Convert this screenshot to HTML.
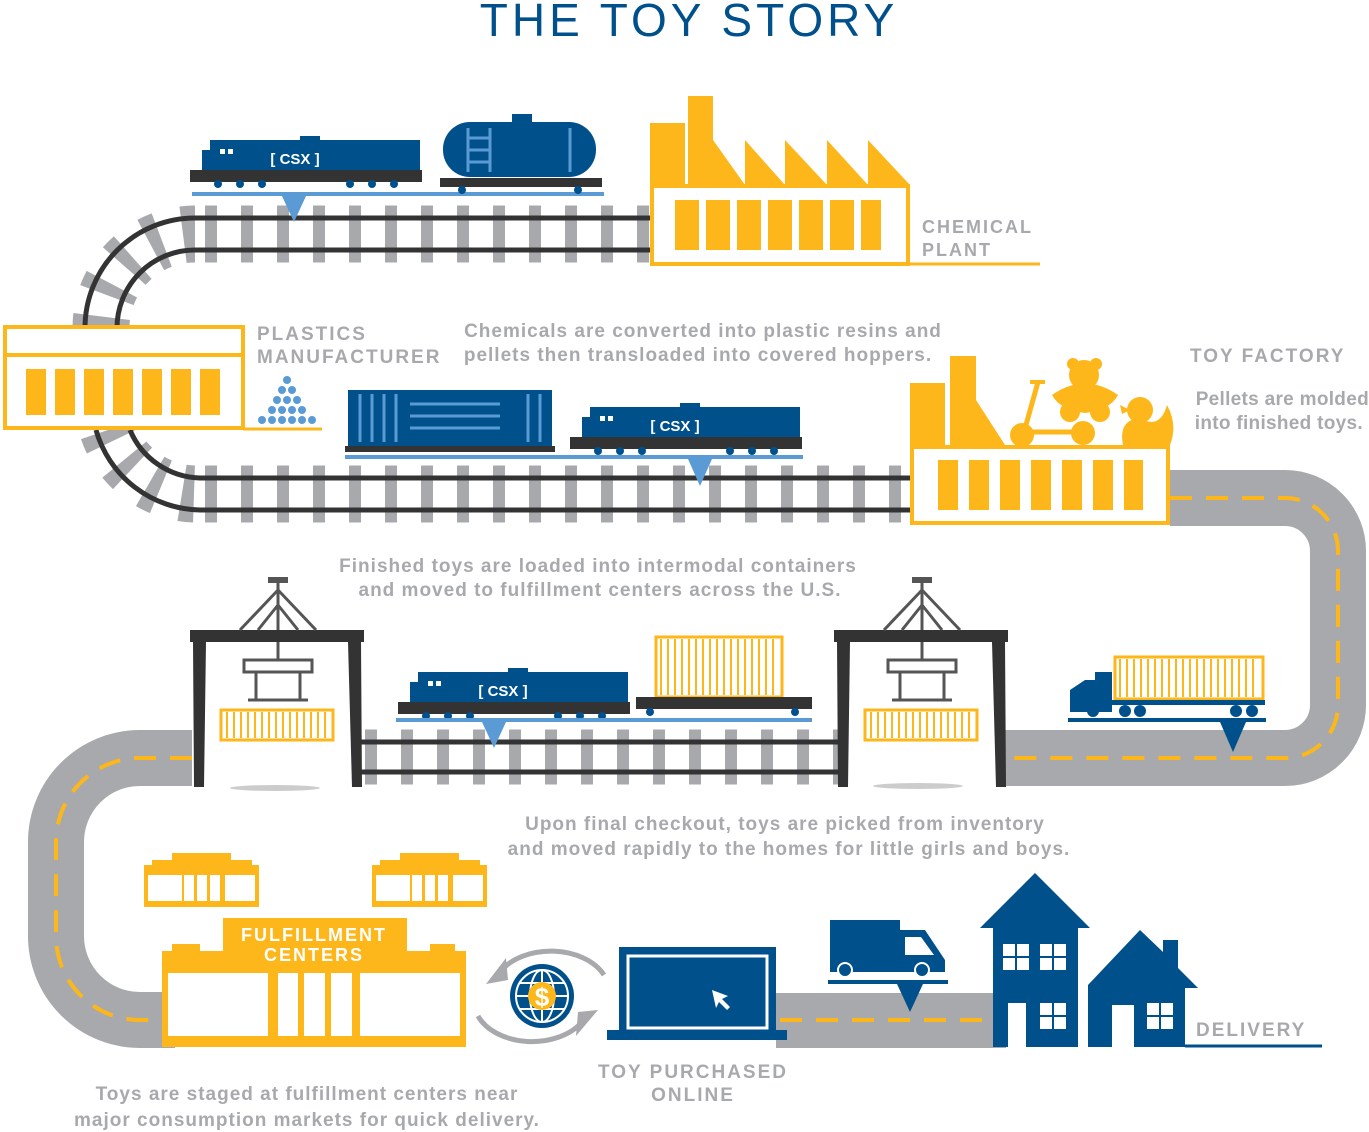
<!DOCTYPE html>
<html><head><meta charset="utf-8"><style>
html,body{margin:0;padding:0;background:#fff}
svg{display:block}
text{font-family:"Liberation Sans",sans-serif;font-weight:bold}
</style></head><body>
<svg width="1369" height="1132" viewBox="0 0 1369 1132" xmlns="http://www.w3.org/2000/svg">
<defs>
<g id="loco">
  <path d="M12,40 V18 H20 V8 H110 V4 H130 V8 H230 V40 Z" fill="#00508c"/>
  <rect x="0" y="38" width="232" height="12" fill="#333"/>
  <rect x="30" y="17" width="5" height="5" fill="#fff"/><rect x="38" y="17" width="5" height="5" fill="#fff"/>
  <text x="105" y="32" font-size="15" fill="#fff" text-anchor="middle">[ CSX ]</text>
  <g fill="#00508c"><circle cx="28" cy="52" r="4"/><circle cx="50" cy="52" r="4"/><circle cx="72" cy="52" r="4"/><circle cx="160" cy="52" r="4"/><circle cx="182" cy="52" r="4"/><circle cx="204" cy="52" r="4"/></g>
</g>
</defs>

<text x="689" y="36" font-size="46" fill="#00508c" text-anchor="middle" letter-spacing="4" style="font-weight:normal">THE TOY STORY</text>

<!-- road -->
<path d="M1170,498 H1285 A53,53 0 0 1 1338,551 V705 A53,53 0 0 1 1285,758 H1005 M192,758 H140 A84,84 0 0 0 56,842 V936 A84,84 0 0 0 140,1020 H175" fill="none" stroke="#a7a9ac" stroke-width="56"/>
<path d="M1170,498 H1285 A53,53 0 0 1 1338,551 V705 A53,53 0 0 1 1285,758 H1005 M192,758 H140 A84,84 0 0 0 56,842 V936 A84,84 0 0 0 140,1020 H175" fill="none" stroke="#fdb71a" stroke-width="4" stroke-dasharray="22 14"/>
<rect x="776" y="993" width="230" height="55" fill="#a7a9ac"/>
<line x1="780" y1="1020" x2="1000" y2="1020" stroke="#fdb71a" stroke-width="4" stroke-dasharray="22 14"/>

<!-- top track -->
<line x1="205" y1="234" x2="650" y2="234" stroke="#a7a9ac" stroke-width="57" stroke-dasharray="12 24"/>
<path d="M195,234 A94,94 0 0 0 101,328" fill="none" stroke="#a7a9ac" stroke-width="57" stroke-dasharray="12 22"/>
<path d="M650,218 H195 A110,110 0 0 0 85,328 M650,250 H195 A78,78 0 0 0 117,328" fill="none" stroke="#333" stroke-width="5"/>

<!-- lower-left track -->
<line x1="205" y1="494" x2="910" y2="494" stroke="#a7a9ac" stroke-width="57" stroke-dasharray="12 24"/>
<path d="M108,430 A94,94 0 0 0 200,494" fill="none" stroke="#a7a9ac" stroke-width="57" stroke-dasharray="12 22"/>
<path d="M910,478 H200 A78,78 0 0 1 130,430 M910,510 H200 A110,110 0 0 1 96,430" fill="none" stroke="#333" stroke-width="5"/>

<!-- chemical plant -->
<g fill="#fdb71a">
  <path d="M650,185 V123 H685 V185 Z"/>
  <path d="M688,185 V96 H713 V140 L745,185 Z"/>
  <path d="M745,185 V140 L785,185 Z M785,185 V140 L827,185 Z M827,185 V140 L868,185 Z M868,185 V140 L910,185 Z"/>
  <rect x="675" y="200" width="24" height="50"/><rect x="706" y="200" width="24" height="50"/><rect x="737" y="200" width="24" height="50"/><rect x="768" y="200" width="24" height="50"/><rect x="799" y="200" width="24" height="50"/><rect x="830" y="200" width="24" height="50"/><rect x="861" y="200" width="20" height="50"/>
</g>
<rect x="652" y="186" width="256" height="78" fill="none" stroke="#fdb71a" stroke-width="4"/>
<line x1="870" y1="264" x2="1040" y2="264" stroke="#fdb71a" stroke-width="3"/>
<text x="922" y="233" font-size="18" fill="#a7a9ac" letter-spacing="2">CHEMICAL</text>
<text x="922" y="256" font-size="18" fill="#a7a9ac" letter-spacing="2">PLANT</text>

<!-- top train -->
<g transform="translate(190,132)"><use href="#loco"/></g>
<rect x="192" y="192" width="412" height="4" fill="#5b9bd5"/>
<path d="M282,196 H306 L294,222 Z" fill="#5b9bd5"/>
<rect x="443" y="122" width="153" height="55" rx="27" fill="#00508c"/>
<rect x="512" y="114" width="20" height="10" fill="#00508c"/>
<path d="M468,128 V172 M490,128 V172 M468,138 H490 M468,150 H490 M468,162 H490 M570,128 V172" stroke="#5b9bd5" stroke-width="3" fill="none"/>
<rect x="440" y="178" width="162" height="9" fill="#333"/>
<circle cx="462" cy="190" r="4" fill="#00508c"/><circle cx="578" cy="190" r="4" fill="#00508c"/>

<!-- plastics manufacturer -->
<rect x="5" y="327" width="238" height="101" fill="#fff" stroke="#fdb71a" stroke-width="4"/>
<line x1="5" y1="355" x2="243" y2="355" stroke="#fdb71a" stroke-width="4"/>
<g fill="#fdb71a"><rect x="26" y="369" width="20" height="46"/><rect x="55" y="369" width="20" height="46"/><rect x="84" y="369" width="20" height="46"/><rect x="113" y="369" width="20" height="46"/><rect x="142" y="369" width="20" height="46"/><rect x="171" y="369" width="20" height="46"/><rect x="200" y="369" width="20" height="46"/></g>
<line x1="243" y1="429" x2="322" y2="429" stroke="#fdb71a" stroke-width="3"/>
<g fill="#5b9bd5">
<circle cx="287" cy="380" r="4"/>
<circle cx="282" cy="390" r="4"/><circle cx="292" cy="390" r="4"/>
<circle cx="277" cy="400" r="4"/><circle cx="287" cy="400" r="4"/><circle cx="297" cy="400" r="4"/>
<circle cx="272" cy="410" r="4"/><circle cx="282" cy="410" r="4"/><circle cx="292" cy="410" r="4"/><circle cx="302" cy="410" r="4"/>
<circle cx="262" cy="420" r="4"/><circle cx="272" cy="420" r="4"/><circle cx="282" cy="420" r="4"/><circle cx="292" cy="420" r="4"/><circle cx="302" cy="420" r="4"/><circle cx="312" cy="420" r="4"/>
</g>
<text x="257" y="340" font-size="19" fill="#a7a9ac" letter-spacing="2">PLASTICS</text>
<text x="257" y="363" font-size="19" fill="#a7a9ac" letter-spacing="2">MANUFACTURER</text>

<text x="703" y="337" font-size="19" fill="#a7a9ac" text-anchor="middle" letter-spacing="1">Chemicals are converted into plastic resins and</text>
<text x="698" y="361" font-size="19" fill="#a7a9ac" text-anchor="middle" letter-spacing="1">pellets then transloaded into covered hoppers.</text>

<!-- middle train -->
<rect x="348" y="390" width="204" height="56" fill="#00508c"/>
<path d="M360,394 V442 M372,394 V442 M384,394 V442 M396,394 V442 M540,394 V442 M528,394 V442 M410,404 H500 M410,416 H500 M410,428 H500" stroke="#5b9bd5" stroke-width="3"/>
<rect x="345" y="446" width="210" height="6" fill="#333"/>
<g transform="translate(570,399)"><use href="#loco"/></g>
<rect x="345" y="455" width="458" height="4" fill="#5b9bd5"/>
<path d="M688,459 H712 L700,486 Z" fill="#5b9bd5"/>

<!-- toy factory -->
<g fill="#fdb71a">
  <rect x="910" y="383" width="35" height="62"/>
  <path d="M950,445 V356 H976 V400 L1005,445 Z"/>
  <rect x="938" y="460" width="20" height="50"/><rect x="969" y="460" width="20" height="50"/><rect x="1000" y="460" width="20" height="50"/><rect x="1031" y="460" width="20" height="50"/><rect x="1062" y="460" width="20" height="50"/><rect x="1093" y="460" width="20" height="50"/><rect x="1124" y="460" width="19" height="50"/>
  <circle cx="1022" cy="435" r="12"/><circle cx="1083" cy="433" r="12"/>
  <path d="M1030,382 H1045" stroke="#fdb71a" stroke-width="4"/>
  <path d="M1038,382 L1024,432 M1024,432 H1076" stroke="#fdb71a" stroke-width="5"/>
  <circle cx="1084" cy="375" r="15"/><circle cx="1073" cy="364" r="6"/><circle cx="1096" cy="364" r="6"/>
  <path d="M1052,395 Q1085,372 1118,395 Q1110,410 1085,413 Q1060,410 1052,395 Z"/>
  <circle cx="1070" cy="412" r="10"/><circle cx="1100" cy="412" r="10"/>
  <circle cx="1140" cy="410" r="13"/>
  <path d="M1123,445 Q1118,420 1140,418 Q1160,430 1167,405 Q1178,425 1170,445 Z"/>
  <path d="M1120,405 L1130,410 L1122,414 Z"/>
</g>
<rect x="912" y="447" width="256" height="76" fill="none" stroke="#fdb71a" stroke-width="4"/>
<text x="1190" y="362" font-size="19" fill="#a7a9ac" letter-spacing="2">TOY FACTORY</text>
<text x="1369" y="405" font-size="19" fill="#a7a9ac" text-anchor="end" letter-spacing="0.3">Pellets are molded</text>
<text x="1363" y="429" font-size="19" fill="#a7a9ac" text-anchor="end" letter-spacing="0.3">into finished toys.</text>

<text x="598" y="572" font-size="19" fill="#a7a9ac" text-anchor="middle" letter-spacing="1">Finished toys are loaded into intermodal containers</text>
<text x="600" y="596" font-size="19" fill="#a7a9ac" text-anchor="middle" letter-spacing="1">and moved to fulfillment centers across the U.S.</text>

<!-- middle track -->
<line x1="365" y1="757" x2="840" y2="757" stroke="#a7a9ac" stroke-width="55" stroke-dasharray="12 24"/>
<line x1="360" y1="742" x2="840" y2="742" stroke="#333" stroke-width="5"/>
<line x1="360" y1="772" x2="840" y2="772" stroke="#333" stroke-width="5"/>

<!-- gantries -->
<g>
<rect x="190" y="630" width="174" height="12" fill="#333"/>
<path d="M193,642 H206 L204,787 H194 Z M348,642 H361 L362,787 H352 Z" fill="#333"/>
<path d="M278,580 V630 M278,590 L240,630 M278,590 L316,630 M278,605 L258,630 M278,605 L298,630" stroke="#555" stroke-width="3" fill="none"/>
<rect x="268" y="577" width="20" height="6" fill="#555"/>
<path d="M278,642 V660 M244,660 H312 V672 H244 Z M256,672 V700 M300,672 V700 M248,700 H308" stroke="#555" stroke-width="3" fill="none"/>
<rect x="221" y="710" width="112" height="30" fill="none" stroke="#fdb71a" stroke-width="3"/>
<line x1="226" y1="725" x2="328" y2="725" stroke="#fdb71a" stroke-width="26" stroke-dasharray="2 5"/>
<ellipse cx="275" cy="788" rx="45" ry="3" fill="#ccc"/>
</g>
<g>
<rect x="834" y="630" width="174" height="12" fill="#333"/>
<path d="M837,642 H850 L848,787 H838 Z M992,642 H1005 L1006,787 H996 Z" fill="#333"/>
<path d="M922,580 V630 M922,590 L884,630 M922,590 L960,630 M922,605 L902,630 M922,605 L942,630" stroke="#555" stroke-width="3" fill="none"/>
<rect x="912" y="577" width="20" height="6" fill="#555"/>
<path d="M922,642 V660 M888,660 H956 V672 H888 Z M900,672 V700 M944,672 V700 M892,700 H952" stroke="#555" stroke-width="3" fill="none"/>
<rect x="865" y="710" width="112" height="30" fill="none" stroke="#fdb71a" stroke-width="3"/>
<line x1="870" y1="725" x2="972" y2="725" stroke="#fdb71a" stroke-width="26" stroke-dasharray="2 5"/>
<ellipse cx="918" cy="786" rx="45" ry="3" fill="#ccc"/>
</g>

<!-- middle train 2 -->
<g transform="translate(398,664)"><use href="#loco"/></g>
<rect x="656" y="637" width="126" height="60" fill="none" stroke="#fdb71a" stroke-width="3"/>
<line x1="660" y1="667" x2="778" y2="667" stroke="#fdb71a" stroke-width="56" stroke-dasharray="2 5"/>
<rect x="636" y="697" width="176" height="12" fill="#333"/>
<circle cx="650" cy="712" r="4" fill="#00508c"/><circle cx="795" cy="712" r="4" fill="#00508c"/>
<rect x="396" y="718" width="416" height="4" fill="#5b9bd5"/>
<path d="M482,722 H506 L494,748 Z" fill="#5b9bd5"/>

<!-- truck right -->
<rect x="1115" y="657" width="148" height="42" fill="none" stroke="#fdb71a" stroke-width="3"/>
<line x1="1119" y1="678" x2="1259" y2="678" stroke="#fdb71a" stroke-width="38" stroke-dasharray="2 5"/>
<path d="M1070,712 V690 L1085,680 H1095 V672 H1112 V712 Z" fill="#00508c"/>
<rect x="1070" y="700" width="195" height="5" fill="#00508c"/>
<g fill="#00508c"><circle cx="1093" cy="711" r="6"/><circle cx="1125" cy="711" r="6"/><circle cx="1140" cy="711" r="6"/><circle cx="1236" cy="711" r="6"/><circle cx="1252" cy="711" r="6"/></g>
<rect x="1068" y="718" width="198" height="4" fill="#00508c"/>
<path d="M1220,722 H1246 L1233,752 Z" fill="#00508c"/>

<text x="785" y="830" font-size="19" fill="#a7a9ac" text-anchor="middle" letter-spacing="1">Upon final checkout, toys are picked from inventory</text>
<text x="789" y="855" font-size="19" fill="#a7a9ac" text-anchor="middle" letter-spacing="1">and moved rapidly to the homes for little girls and boys.</text>

<!-- small fulfillment buildings -->
<g fill="#fdb71a">
<path d="M144,865 H152 V860 H172 V853 H231 V860 H252 V865 H259 V907 H144 Z"/>
<path d="M372,865 H380 V860 H400 V853 H459 V860 H480 V865 H487 V907 H372 Z"/>
</g>
<g fill="#fff">
<rect x="148" y="875" width="34" height="26"/><rect x="184" y="875" width="10" height="26"/><rect x="197" y="875" width="10" height="26"/><rect x="210" y="875" width="10" height="26"/><rect x="225" y="875" width="30" height="26"/>
<rect x="376" y="875" width="34" height="26"/><rect x="412" y="875" width="10" height="26"/><rect x="425" y="875" width="10" height="26"/><rect x="438" y="875" width="10" height="26"/><rect x="453" y="875" width="30" height="26"/>
</g>

<!-- main fulfillment center -->
<path d="M162,951 H172 V944 H200 V951 H223 V918 H407 V951 H430 V944 H455 V951 H466 V1047 H162 Z" fill="#fdb71a"/>
<g fill="#fff">
<rect x="168" y="973" width="100" height="63"/><rect x="278" y="973" width="20" height="63"/><rect x="304" y="973" width="21" height="63"/><rect x="331" y="973" width="21" height="63"/><rect x="360" y="973" width="100" height="63"/>
</g>
<text x="314" y="941" font-size="18" fill="#fff" text-anchor="middle" letter-spacing="2">FULFILLMENT</text>
<text x="314" y="961" font-size="18" fill="#fff" text-anchor="middle" letter-spacing="2">CENTERS</text>

<!-- globe & arrows -->
<path d="M500,972 A58,40 0 0 1 604,975" fill="none" stroke="#a7a9ac" stroke-width="5"/>
<path d="M486,984 L506,958 L508,980 Z" fill="#a7a9ac"/>
<path d="M478,1016 A58,40 0 0 0 582,1022" fill="none" stroke="#a7a9ac" stroke-width="5"/>
<path d="M598,1010 L576,1036 L578,1012 Z" fill="#a7a9ac"/>
<circle cx="542" cy="996" r="32" fill="#00508c"/>
<g stroke="#fff" stroke-width="2" fill="none"><circle cx="542" cy="996" r="26"/><ellipse cx="542" cy="996" rx="12" ry="26"/><line x1="516" y1="996" x2="568" y2="996"/><line x1="542" y1="970" x2="542" y2="1022"/><path d="M520,983 H564 M520,1009 H564"/></g>
<circle cx="542" cy="996" r="14" fill="#fdb71a"/>
<text x="542" y="1006" font-size="26" fill="#fff" text-anchor="middle">$</text>

<!-- laptop -->
<rect x="619" y="947" width="157" height="86" fill="#00508c"/>
<rect x="628" y="956" width="139" height="72" fill="none" stroke="#fff" stroke-width="3"/>
<rect x="607" y="1030" width="180" height="10" fill="#00508c"/>
<path d="M712,990 L728,996 L722,999 L730,1007 L727,1010 L719,1002 L716,1008 Z" fill="#fff"/>
<text x="693" y="1078" font-size="19" fill="#a7a9ac" text-anchor="middle" letter-spacing="2">TOY PURCHASED</text>
<text x="693" y="1101" font-size="19" fill="#a7a9ac" text-anchor="middle" letter-spacing="2">ONLINE</text>

<!-- delivery truck -->
<path d="M830,920 H900 V930 H925 L945,960 V972 H830 Z" fill="#00508c"/>
<path d="M905,937 H921 L934,955 H905 Z" fill="#fff"/>
<circle cx="845" cy="970" r="7" fill="#00508c" stroke="#fff" stroke-width="2"/><circle cx="922" cy="970" r="7" fill="#00508c" stroke="#fff" stroke-width="2"/>
<rect x="828" y="980" width="120" height="4" fill="#00508c"/>
<path d="M897,984 H923 L910,1012 Z" fill="#00508c"/>

<!-- houses -->
<path d="M980,928 L1035,873 L1090,928 H1078 V1047 H993 V928 Z" fill="#00508c"/>
<path d="M1088,985 L1140,930 L1163,952 V940 H1178 V968 L1198,988 H1185 V1047 H1088 Z" fill="#00508c"/>
<g fill="#fff">
<rect x="1003" y="944" width="12" height="12"/><rect x="1017" y="944" width="12" height="12"/><rect x="1003" y="958" width="12" height="12"/><rect x="1017" y="958" width="12" height="12"/>
<rect x="1040" y="944" width="12" height="12"/><rect x="1054" y="944" width="12" height="12"/><rect x="1040" y="958" width="12" height="12"/><rect x="1054" y="958" width="12" height="12"/>
<rect x="1040" y="1003" width="12" height="12"/><rect x="1054" y="1003" width="12" height="12"/><rect x="1040" y="1017" width="12" height="12"/><rect x="1054" y="1017" width="12" height="12"/>
<rect x="1008" y="1003" width="18" height="44"/>
<rect x="1112" y="1005" width="22" height="42"/>
<rect x="1147" y="1003" width="12" height="12"/><rect x="1161" y="1003" width="12" height="12"/><rect x="1147" y="1017" width="12" height="12"/><rect x="1161" y="1017" width="12" height="12"/>
</g>
<line x1="1185" y1="1046" x2="1322" y2="1046" stroke="#00508c" stroke-width="3"/>
<text x="1196" y="1036" font-size="19" fill="#a7a9ac" letter-spacing="2">DELIVERY</text>

<text x="307" y="1100" font-size="19" fill="#a7a9ac" text-anchor="middle" letter-spacing="1">Toys are staged at fulfillment centers near</text>
<text x="307" y="1126" font-size="19" fill="#a7a9ac" text-anchor="middle" letter-spacing="1">major consumption markets for quick delivery.</text>
</svg>
</body></html>
